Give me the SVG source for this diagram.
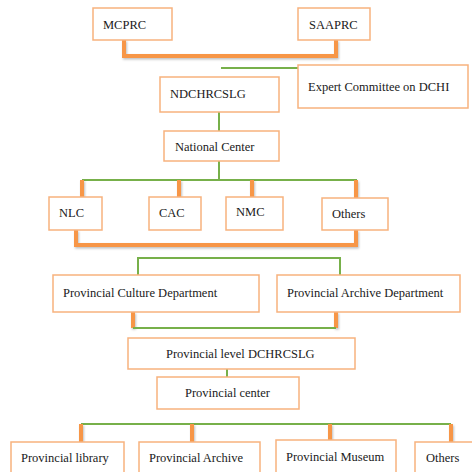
<svg xmlns="http://www.w3.org/2000/svg" width="472" height="472" viewBox="0 0 472 472">
<defs>
<style>
.box{fill:#ffffff;stroke:#F7B27E;stroke-width:1.5}
.t{font-family:"Liberation Serif","Times New Roman",serif;font-size:12.5px;fill:#1a1a1a}
.or{fill:none;stroke:#F79646;stroke-width:4;stroke-linecap:butt;filter:url(#sh)}
.gr{fill:none;stroke:#77B04A;stroke-width:2}
</style>
<filter id="sh" x="-10%" y="-50%" width="120%" height="200%">
<feDropShadow dx="1" dy="1.5" stdDeviation="0.8" flood-color="#000" flood-opacity="0.25"/>
</filter>
</defs>
<rect width="472" height="472" fill="#ffffff"/>
<g id="connectors">
<path class="or" d="M124 40 V56 H336 V40"/>
<path class="or" d="M221 56 V77"/>
<path class="gr" d="M221 68 H298"/>
<path class="gr" d="M219 112 V131"/>
<path class="gr" d="M219 161 V180"/>
<path class="gr" d="M82 180 H357"/>
<path class="or" d="M82 180 V197 M179 180 V197 M252 180 V197 M356 180 V198"/>
<path class="or" d="M76 230 V245 H356 V230"/>
<path class="or" d="M221 245 V257"/>
<path class="gr" d="M138 258 H340 M138 257 V275 M340 257 V275"/>
<path class="or" d="M133 312 V328 M336 312 V328"/>
<path class="gr" d="M133 328 H336"/>
<path class="or" d="M227 328 V338"/>
<path class="gr" d="M227 369 V377"/>
<path class="or" d="M226 409 V424"/>
<path class="gr" d="M81 424 H451"/>
<path class="or" d="M81 424 V442 M192 424 V442 M330 424 V440 M451 424 V442"/>
</g>
<g id="mcprc"><rect class="box" x="93" y="8" width="79" height="32"/><text class="t" x="103" y="29">MCPRC</text></g>
<g id="saaprc"><rect class="box" x="298" y="8" width="72" height="32"/><text class="t" x="309" y="29">SAAPRC</text></g>
<g id="ndchrcslg"><rect class="box" x="160" y="77" width="119" height="35"/><text class="t" x="170" y="98">NDCHRCSLG</text></g>
<g id="expert"><rect class="box" x="298" y="65" width="170" height="43"/><text class="t" x="308" y="91">Expert Committee  on DCHI</text></g>
<g id="national"><rect class="box" x="164" y="131" width="115" height="30"/><text class="t" x="175" y="151">National Center</text></g>
<g id="nlc"><rect class="box" x="49" y="197" width="53" height="33"/><text class="t" x="59" y="217">NLC</text></g>
<g id="cac"><rect class="box" x="149" y="197" width="52" height="33"/><text class="t" x="159" y="217">CAC</text></g>
<g id="nmc"><rect class="box" x="226" y="197" width="57" height="33"/><text class="t" x="236" y="216">NMC</text></g>
<g id="others1"><rect class="box" x="322" y="198" width="66" height="32"/><text class="t" x="332" y="218">Others</text></g>
<g id="pcd"><rect class="box" x="53" y="275" width="206" height="37"/><text class="t" x="63" y="297">Provincial Culture Department</text></g>
<g id="pad"><rect class="box" x="277" y="275" width="183" height="37"/><text class="t" x="287" y="297">Provincial Archive Department</text></g>
<g id="pldchrcslg"><rect class="box" x="128" y="338" width="227" height="31"/><text class="t" x="166" y="358">Provincial level DCHRCSLG</text></g>
<g id="pcenter"><rect class="box" x="157" y="377" width="142" height="32"/><text class="t" x="185" y="397">Provincial center</text></g>
<g id="plibrary"><rect class="box" x="11" y="442" width="113" height="40"/><text class="t" x="21" y="462">Provincial library</text></g>
<g id="parchive"><rect class="box" x="139" y="442" width="121" height="40"/><text class="t" x="149" y="462">Provincial Archive</text></g>
<g id="pmuseum"><rect class="box" x="276" y="440" width="120" height="42"/><text class="t" x="286" y="461">Provincial Museum</text></g>
<g id="others2"><rect class="box" x="415" y="442" width="70" height="40"/><text class="t" x="426" y="462">Others</text></g>
</svg>
